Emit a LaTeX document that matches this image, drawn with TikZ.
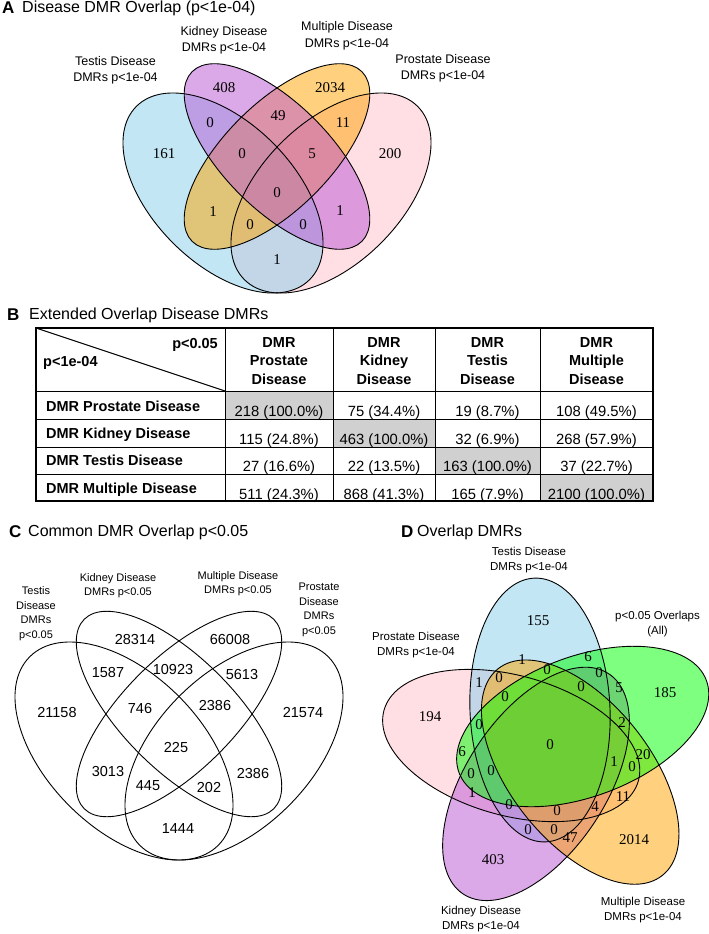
\documentclass[tikz,border=0pt]{standalone}
\usepackage{fontspec}
\setmainfont{Liberation Sans}
\newfontfamily\numfont{Liberation Serif}
\definecolor{vblue}{RGB}{135,206,235}
\definecolor{vpink}{RGB}{255,192,203}
\definecolor{vorange}{RGB}{255,165,0}
\definecolor{vpurple}{RGB}{186,85,211}
\definecolor{vgreen}{RGB}{0,255,0}
\definecolor{cellgray}{RGB}{208,208,208}
\begin{document}
\begin{tikzpicture}[x=1pt,y=-1pt,
  lab/.style={font=\fontsize{12.5}{16.5}\selectfont,align=center,inner sep=0pt},
  labc/.style={font=\fontsize{11}{14.5}\selectfont,align=center,inner sep=0pt},
  labd/.style={font=\fontsize{11.5}{15}\selectfont,align=center,inner sep=0pt},
  num/.style={font=\numfont\fontsize{15}{15}\selectfont,inner sep=0pt},
  numc/.style={font=\fontsize{14.5}{15}\selectfont,inner sep=0pt},
  ttl/.style={font=\fontsize{16}{18}\selectfont,anchor=west,inner sep=0pt},
  pan/.style={font=\bfseries\fontsize{17}{18}\selectfont,anchor=west,inner sep=0pt},
  vline/.style={draw=black,line width=0.9pt},
  vfill/.style={fill=#1,fill opacity=0.5},
  thead/.style={font=\bfseries\fontsize{14.5}{18.5}\selectfont,align=center,inner sep=0pt},
  rowlab/.style={font=\bfseries\fontsize{14.5}{17}\selectfont,anchor=base west,inner sep=0pt},
  cell/.style={font=\fontsize{14.8}{17}\selectfont,anchor=base,inner sep=0pt},
  tline/.style={line width=1pt},
  touter/.style={line width=1.4pt},
  dell/.style={x radius=132pt,y radius=70pt}
]
\useasboundingbox[fill=white] (0,0) rectangle (709,934);

% ================= Panel A =================
\node[pan] (Apan) at (2,8) {A};
\node[ttl] (Attl) at (22,8) {Disease DMR Overlap (p<1e-04)};

\path[vfill=vpink,shift={(331,193)},rotate=45] (0,0) ellipse [x radius=122.5pt,y radius=70.7pt];
\path[vfill=vblue,shift={(223,193)},rotate=-45] (0,0) ellipse [x radius=122.5pt,y radius=70.7pt];
\path[vfill=vorange,shift={(277,156.5)},rotate=45] (0,0) ellipse [x radius=120pt,y radius=53pt];
\path[vfill=vpurple,shift={(277,156.5)},rotate=-45] (0,0) ellipse [x radius=120pt,y radius=53pt];
\draw[vline,shift={(331,193)},rotate=45] (0,0) ellipse [x radius=122.5pt,y radius=70.7pt];
\draw[vline,shift={(223,193)},rotate=-45] (0,0) ellipse [x radius=122.5pt,y radius=70.7pt];
\draw[vline,shift={(277,156.5)},rotate=45] (0,0) ellipse [x radius=120pt,y radius=53pt];
\draw[vline,shift={(277,156.5)},rotate=-45] (0,0) ellipse [x radius=120pt,y radius=53pt];

\node[lab] (Alt) at (115.5,70.5) {Testis Disease\\DMRs p<1e-04};
\node[lab] (Alk) at (224,40.5) {Kidney Disease\\DMRs p<1e-04};
\node[lab] (Alm) at (347,36) {Multiple Disease\\DMRs p<1e-04};
\node[lab] (Alp) at (443,68.5) {Prostate Disease\\DMRs p<1e-04};

\node[num] (a1) at (224,88) {408};
\node[num] (a2) at (330,88) {2034};
\node[num] (a3) at (210,123) {0};
\node[num] (a4) at (278,116) {49};
\node[num] (a5) at (343,123) {11};
\node[num] (a6) at (164,154) {161};
\node[num] (a7) at (242,154) {0};
\node[num] (a8) at (312,154) {5};
\node[num] (a9) at (390,154) {200};
\node[num] (a10) at (277,193) {0};
\node[num] (a11) at (213,212) {1};
\node[num] (a12) at (340,211) {1};
\node[num] (a13) at (250,225) {0};
\node[num] (a14) at (303,225) {0};
\node[num] (a15) at (277,260) {1};

% ================= Panel B =================
\node[pan] (Bpan) at (7,315) {B};
\node[ttl] (Bttl) at (29,315) {Extended Overlap Disease DMRs};

\fill[cellgray] (225,391) rectangle (333,419);
\fill[cellgray] (333,419) rectangle (435,447);
\fill[cellgray] (435,447) rectangle (540,474);
\fill[cellgray] (540,474) rectangle (653,501);

\draw[tline] (36,391) -- (653,391);
\draw[tline] (36,419) -- (653,419);
\draw[tline] (36,447) -- (653,447);
\draw[tline] (36,474) -- (653,474);
\draw[tline] (225,328) -- (225,501);
\draw[tline] (333,328) -- (333,501);
\draw[tline] (435,328) -- (435,501);
\draw[tline] (540,328) -- (540,501);
\draw[tline] (36,328) -- (225,391);
\draw[touter] (36,328) rectangle (653,501);

\node[font=\bfseries\fontsize{14.5}{17}\selectfont,anchor=base east,inner sep=0pt] (Bp1) at (218,348) {p<0.05};
\node[font=\bfseries\fontsize{14.5}{17}\selectfont,anchor=base west,inner sep=0pt] (Bp2) at (43,366) {p<1e-04};

\node[thead] (h1) at (279,361) {DMR\\Prostate\\Disease};
\node[thead] (h2) at (384,361) {DMR\\Kidney\\Disease};
\node[thead] (h3) at (487.5,361) {DMR\\Testis\\Disease};
\node[thead] (h4) at (596.5,361) {DMR\\Multiple\\Disease};

\node[rowlab] (r1) at (46,411) {DMR Prostate Disease};
\node[rowlab] (r2) at (46,438) {DMR Kidney Disease};
\node[rowlab] (r3) at (46,465) {DMR Testis Disease};
\node[rowlab] (r4) at (46,493) {DMR Multiple Disease};

\node[cell] (c11) at (279,416) {218 (100.0\%)};
\node[cell] (c12) at (384,416) {75 (34.4\%)};
\node[cell] (c13) at (487.5,416) {19 (8.7\%)};
\node[cell] (c14) at (596.5,416) {108 (49.5\%)};
\node[cell] (c21) at (279,444) {115 (24.8\%)};
\node[cell] (c22) at (384,444) {463 (100.0\%)};
\node[cell] (c23) at (487.5,444) {32 (6.9\%)};
\node[cell] (c24) at (596.5,444) {268 (57.9\%)};
\node[cell] (c31) at (279,471) {27 (16.6\%)};
\node[cell] (c32) at (384,471) {22 (13.5\%)};
\node[cell] (c33) at (487.5,471) {163 (100.0\%)};
\node[cell] (c34) at (596.5,471) {37 (22.7\%)};
\node[cell] (c41) at (279,499) {511 (24.3\%)};
\node[cell] (c42) at (384,499) {868 (41.3\%)};
\node[cell] (c43) at (487.5,499) {165 (7.9\%)};
\node[cell] (c44) at (596.5,499) {2100 (100.0\%)};

% ================= Panel C =================
\node[pan] (Cpan) at (9,532) {C};
\node[ttl] (Cttl) at (28,532) {Common DMR Overlap p<0.05};

\draw[vline,shift={(124,751)},rotate=-45] (0,0) ellipse [x radius=133.3pt,y radius=77.4pt];
\draw[vline,shift={(234,751)},rotate=45] (0,0) ellipse [x radius=133.3pt,y radius=77.4pt];
\draw[vline,shift={(179,714)},rotate=-45] (0,0) ellipse [x radius=134pt,y radius=56pt];
\draw[vline,shift={(179,714)},rotate=45] (0,0) ellipse [x radius=134pt,y radius=56pt];

\node[labc] (Clt) at (36,613.5) {Testis\\Disease\\DMRs\\p<0.05};
\node[labc] (Clk) at (118,585.5) {Kidney Disease\\DMRs p<0.05};
\node[labc] (Clm) at (238,583.5) {Multiple Disease\\DMRs p<0.05};
\node[labc] (Clp) at (319,610) {Prostate\\Disease\\DMRs\\p<0.05};

\node[numc] (n1) at (135,640) {28314};
\node[numc] (n2) at (230,640) {66008};
\node[numc] (n3) at (108,673) {1587};
\node[numc] (n4) at (173,670) {10923};
\node[numc] (n5) at (242,675) {5613};
\node[numc] (n6) at (57,713) {21158};
\node[numc] (n7) at (140,708) {746};
\node[numc] (n8) at (215,706) {2386};
\node[numc] (n9) at (303,713) {21574};
\node[numc] (n10) at (176,747) {225};
\node[numc] (n11) at (108,771) {3013};
\node[numc] (n12) at (253,773) {2386};
\node[numc] (n13) at (148,786) {445};
\node[numc] (n14) at (209,787) {202};
\node[numc] (n15) at (178,829) {1444};

% ================= Panel D =================
\node[pan] (Dpan) at (401,532) {D};
\node[ttl] (Dttl) at (417,532) {Overlap DMRs};

\path[vfill=vpink,shift={(511.2,745.5)},rotate=164.5] (0,0) ellipse [dell];
\path[vfill=vblue,shift={(540,710)},rotate=92.5] (0,0) ellipse [dell];
\path[vfill=vpurple,shift={(536,783.9)},rotate=-123.5] (0,0) ellipse [dell];
\path[vfill=vorange,shift={(580.2,772.1)},rotate=-51.5] (0,0) ellipse [dell];
\path[vfill=vgreen,shift={(582.7,726.5)},rotate=20.5] (0,0) ellipse [dell];
\draw[vline,shift={(511.2,745.5)},rotate=164.5] (0,0) ellipse [dell];
\draw[vline,shift={(540,710)},rotate=92.5] (0,0) ellipse [dell];
\draw[vline,shift={(536,783.9)},rotate=-123.5] (0,0) ellipse [dell];
\draw[vline,shift={(580.2,772.1)},rotate=-51.5] (0,0) ellipse [dell];
\draw[vline,shift={(582.7,726.5)},rotate=20.5] (0,0) ellipse [dell];

\node[labd] (Dlt) at (529,560.5) {Testis Disease\\DMRs p<1e-04};
\node[labd] (Dlo) at (657.5,624) {p<0.05 Overlaps\\(All)};
\node[labd] (Dlp) at (416,645.5) {Prostate Disease\\DMRs p<1e-04};
\node[labd] (Dlk) at (481,919) {Kidney Disease\\DMRs p<1e-04};
\node[labd] (Dlm) at (643,910) {Multiple Disease\\DMRs p<1e-04};

\node[num] (d1) at (538,621) {155};
\node[num] (d2) at (522,660) {1};
\node[num] (d3) at (588,657) {6};
\node[num] (d4) at (499,678) {0};
\node[num] (d5) at (547,670) {0};
\node[num] (d6) at (599,673) {0};
\node[num] (d7) at (479,683) {1};
\node[num] (d8) at (505,697) {0};
\node[num] (d9) at (581,687) {0};
\node[num] (d10) at (619,688) {5};
\node[num] (d11) at (622,723) {2};
\node[num] (d12) at (479,725) {0};
\node[num] (d13) at (550,745) {0};
\node[num] (d14) at (462,752) {6};
\node[num] (d15) at (614,762) {1};
\node[num] (d16) at (471,774) {0};
\node[num] (d17) at (491,771) {0};
\node[num] (d18) at (632,767) {0};
\node[num] (d19) at (665,693) {185};
\node[num] (d20) at (430,717) {194};
\node[num] (d21) at (643,755) {20};
\node[num] (d22) at (472,793) {1};
\node[num] (d23) at (509,805) {0};
\node[num] (d24) at (557,811) {0};
\node[num] (d25) at (595,807) {4};
\node[num] (d26) at (623,797) {11};
\node[num] (d27) at (528,830) {0};
\node[num] (d28) at (554,830) {0};
\node[num] (d29) at (570,838) {47};
\node[num] (d30) at (634,840) {2014};
\node[num] (d31) at (493,860) {403};
\end{tikzpicture}
\end{document}
